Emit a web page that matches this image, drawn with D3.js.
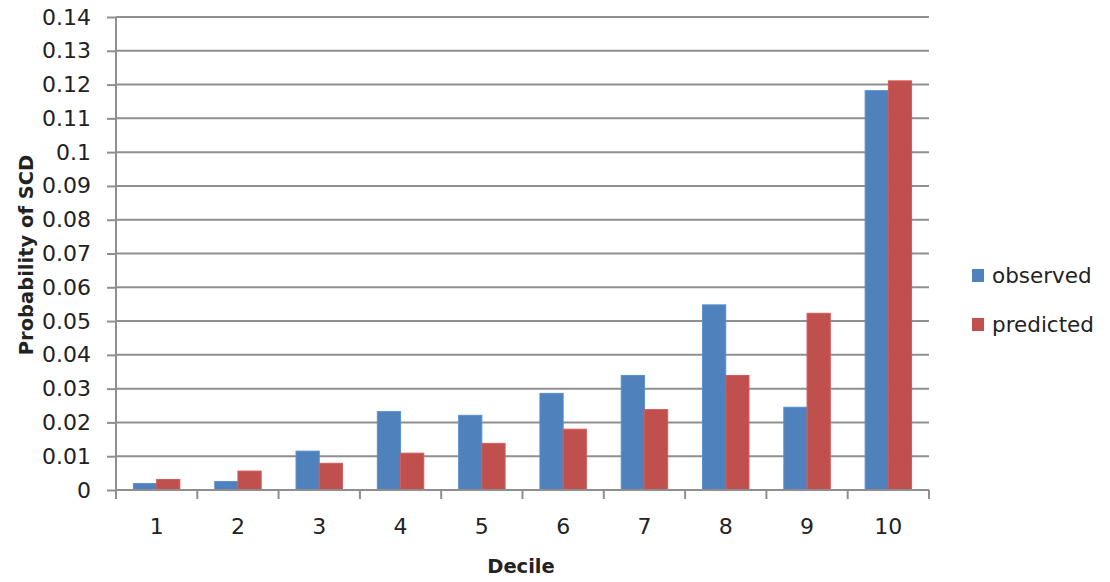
<!DOCTYPE html>
<html>
<head>
<meta charset="utf-8">
<script src="https://cdn.jsdelivr.net/npm/d3@7"></script>
<style>
  html, body { margin: 0; padding: 0; background: #fff; }
  svg { display: block; }
  text { font-family: "DejaVu Sans", Verdana, sans-serif; fill: #222; }
</style>
</head>
<body>
<svg id="chart" width="1110" height="582"></svg>
<script>
// Probability of SCD by decile: observed vs. predicted
const deciles = ["1", "2", "3", "4", "5", "6", "7", "8", "9", "10"];
const observed = [0.0019, 0.0025, 0.0115, 0.0232, 0.0221, 0.0286, 0.0339, 0.0548, 0.0245, 0.1182];
const predicted = [0.0031, 0.0056, 0.0079, 0.0109, 0.0138, 0.0180, 0.0238, 0.0339, 0.0523, 0.1211];
const seriesNames = ["observed", "predicted"];
const seriesColors = ["#4f81bd", "#c0504d"];
const yTicks = [0, 0.01, 0.02, 0.03, 0.04, 0.05, 0.06, 0.07, 0.08, 0.09, 0.1, 0.11, 0.12, 0.13, 0.14];

const svg = d3.select("#chart");
const margin = { left: 116, right: 181, top: 17, bottom: 92 };
const width = 1110 - margin.left - margin.right;
const height = 582 - margin.top - margin.bottom;

const g = svg.append("g").attr("transform", `translate(${margin.left},${margin.top})`);

const x0 = d3.scaleBand().domain(deciles).range([0, width]).paddingInner(0).paddingOuter(0);
// Two bars per category with a gap of 150% of a bar width
const barW = x0.bandwidth() / 3.5;
const x1 = d3.scaleBand().domain(seriesNames).range([0, 2 * barW]);
const y = d3.scaleLinear().domain([0, 0.14]).range([height, 0]);

const gridColor = "#8f8f8f";

// Horizontal gridlines and left tick marks
const yAxis = d3.axisLeft(y).tickValues(yTicks).tickSize(9)
  .tickFormat(d => d === 0 ? "0" : d3.format("")(+d.toFixed(2)));
const yg = g.append("g").call(yAxis);
yg.select(".domain").remove();
yg.selectAll(".tick line").attr("stroke", gridColor).attr("stroke-width", 2);
yg.selectAll(".tick text").attr("x", -25).attr("font-size", 22).attr("fill", "#222");

g.append("g").selectAll("line.grid").data(yTicks).join("line")
  .attr("class", "grid")
  .attr("x1", 0).attr("x2", width)
  .attr("y1", d => y(d)).attr("y2", d => y(d))
  .attr("stroke", gridColor).attr("stroke-width", 2);

// Bars
const series = [observed, predicted];
seriesNames.forEach((name, si) => {
  g.append("g").selectAll("rect").data(series[si]).join("rect")
    .attr("x", (d, i) => x0(deciles[i]) + x0.bandwidth() / 2 - barW + x1(name))
    .attr("y", d => y(d))
    .attr("width", x1.bandwidth())
    .attr("height", d => y(0) - y(d))
    .attr("fill", seriesColors[si])
    .attr("stroke", d3.color(seriesColors[si]).brighter(0.3))
    .attr("stroke-width", 1);
});

// Vertical axis line
g.append("line").attr("x1", 0).attr("x2", 0).attr("y1", 0).attr("y2", height)
  .attr("stroke", gridColor).attr("stroke-width", 2);

// Category axis with tick marks between categories
const xg = g.append("g").attr("transform", `translate(0,${height})`);
xg.append("line").attr("x1", 0).attr("x2", width).attr("y1", 0).attr("y2", 0)
  .attr("stroke", gridColor).attr("stroke-width", 2);
const boundaries = deciles.map(d => x0(d)).concat([width]);
xg.selectAll("line.tk").data(boundaries).join("line")
  .attr("class", "tk")
  .attr("x1", d => d).attr("x2", d => d).attr("y1", 0).attr("y2", 9)
  .attr("stroke", gridColor).attr("stroke-width", 2);
xg.selectAll("text.cat").data(deciles).join("text")
  .attr("class", "cat")
  .attr("x", d => x0(d) + x0.bandwidth() / 2)
  .attr("y", 44)
  .attr("text-anchor", "middle")
  .attr("font-size", 22)
  .text(d => d);

// Axis titles
svg.append("text")
  .attr("transform", "translate(33,255) rotate(-90)")
  .attr("text-anchor", "middle")
  .attr("font-weight", "bold")
  .attr("font-size", 19.5)
  .text("Probability of SCD");

svg.append("text")
  .attr("x", 521).attr("y", 573)
  .attr("text-anchor", "middle")
  .attr("font-weight", "bold")
  .attr("font-size", 19.5)
  .text("Decile");

// Legend
const legend = svg.append("g").attr("transform", "translate(972,269)");
seriesNames.forEach((name, i) => {
  const row = legend.append("g").attr("transform", `translate(0,${i * 49})`);
  row.append("rect").attr("width", 12).attr("height", 13).attr("fill", seriesColors[i]);
  row.append("text").attr("x", 20).attr("y", 14).attr("font-size", 21.5).text(name);
});
</script>
</body>
</html>
